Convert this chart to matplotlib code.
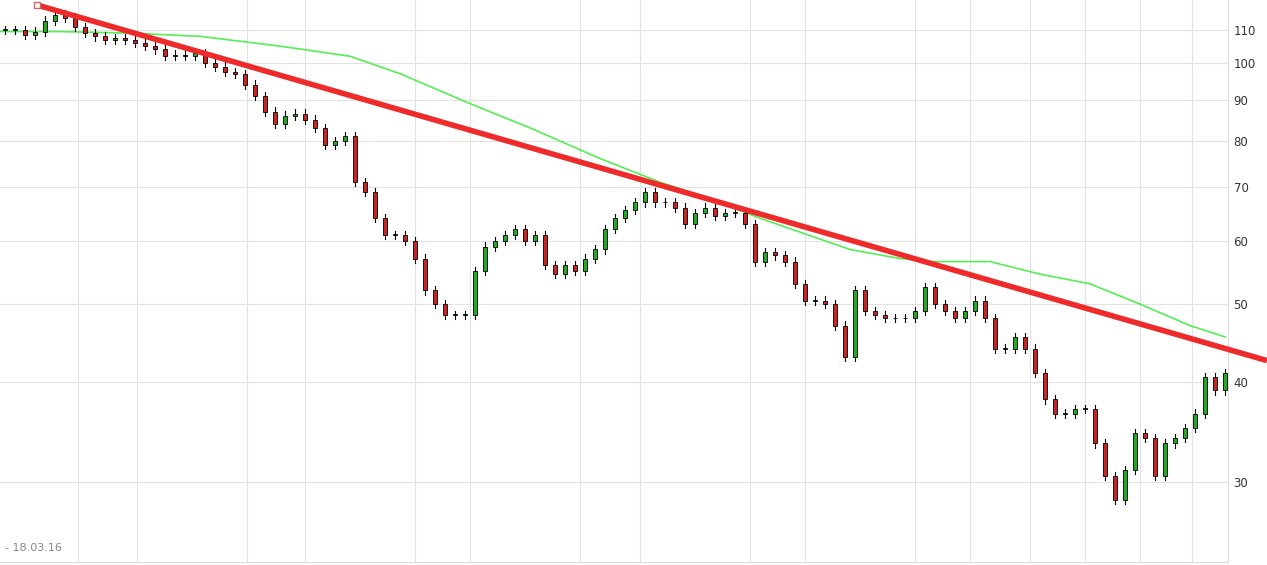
import matplotlib
matplotlib.use("Agg")
import matplotlib.pyplot as plt
from matplotlib.ticker import FixedLocator, NullLocator

closes = [110,110,108.5,109.5,113,115,114,111,109,108,107,107.5,107,106,105,104,102,102.5,102,103,
          100,99,97.5,97,94,91,87,84,86,86.5,85,83,79,80,81,71,69,64,61,61,60,57,52,50,48.5,48.5,48.5,
          55,59,60,61,62,60,61,56,54.5,56,55,57,58.5,62,64,65.5,67,69,67,67,66,63,65,66,64.5,65,65,63,
          56.5,58,57.5,56.5,53,50.5,50.5,50,47,43,52,49,48.5,48,48,48,49,52.5,50,49,48,49,50.5,48,44,44,
          45.5,44,41,38,36.5,36.5,37,37,33.5,30.5,28.5,31,34.5,34,30.5,33.5,34,35,36.5,40.5,39,41]
ma_idx = [-0.5,5.5,12.5,19.5,27.5,34.5,39.5,46.5,52.5,59.5,65.5,71.5,75.5,79.5,84.5,89.5,92.5,98.5,103.5,108.5,113.5,118.5,122]
ma_val = [109.5,109.5,109,108,105,102,97,89,83,76,71,67,64,61.5,58.5,57,56.5,56.5,54.5,53,50,47,45.5]
trend_idx = [3.2, 126.2]
trend_val = [118.2, 42.5]
yticks = [30,40,50,60,70,80,90,100,110]
vgrid_px = [78,137,247,305,415,470,580,640,750,805,915,970,1030,1085,1140,1192]

fig = plt.figure(figsize=(12.67,5.65), dpi=100)
ax = fig.add_axes([0, 0.005, 1228/1267, 0.995])
ax.set_yscale('log')
ax.set_ylim(23.8, 119.9)
ax.set_xlim(-0.5, 122.3)

opens = [closes[0]] + closes[:-1]
for i,(o,c) in enumerate(zip(opens,closes)):
    hi = max(o,c)*1.012; lo = min(o,c)*0.988
    ax.plot([i,i],[lo,hi],color='black',lw=0.8,zorder=3)
    col = '#22aa22' if c>=o else '#cc2222'
    b0, b1 = min(o,c), max(o,c)
    if b1/b0 < 1.002: b1 = b0*1.002
    ax.bar(i, b1-b0, bottom=b0, width=0.45, color=col, edgecolor='black', linewidth=0.6, zorder=4)

ax.plot(ma_idx, ma_val, color='#55ee55', lw=1.2, zorder=2)
ax.plot(trend_idx, trend_val, color='#ee2a2a', lw=4, zorder=5, clip_on=False, solid_capstyle='butt')
ax.plot([trend_idx[0]],[trend_val[0]], marker='s', ms=4, mfc='white', mec='#cc6666', zorder=6, clip_on=False)

ax.yaxis.tick_right()
ax.yaxis.set_major_locator(FixedLocator(yticks))
ax.yaxis.set_minor_locator(NullLocator())
ax.set_yticklabels([str(v) for v in yticks], fontsize=8.5, color='#333333')
ax.tick_params(axis='y', length=0, pad=4)
ax.xaxis.set_major_locator(FixedLocator([(p-5)/10 for p in vgrid_px]))
ax.set_xticklabels([])
ax.tick_params(axis='x', length=0)
ax.grid(True, color='#e2e2e2', lw=0.8, zorder=0)
for s in ['top','left']:
    ax.spines[s].set_visible(False)
ax.spines['right'].set_color('#dddddd')
ax.spines['bottom'].set_color('#dddddd')
fig.text(5/1267, 1-548/565, '- 18.03.16', fontsize=8, color='#888888', va='center')
fig.savefig('out.png', dpi=100)
